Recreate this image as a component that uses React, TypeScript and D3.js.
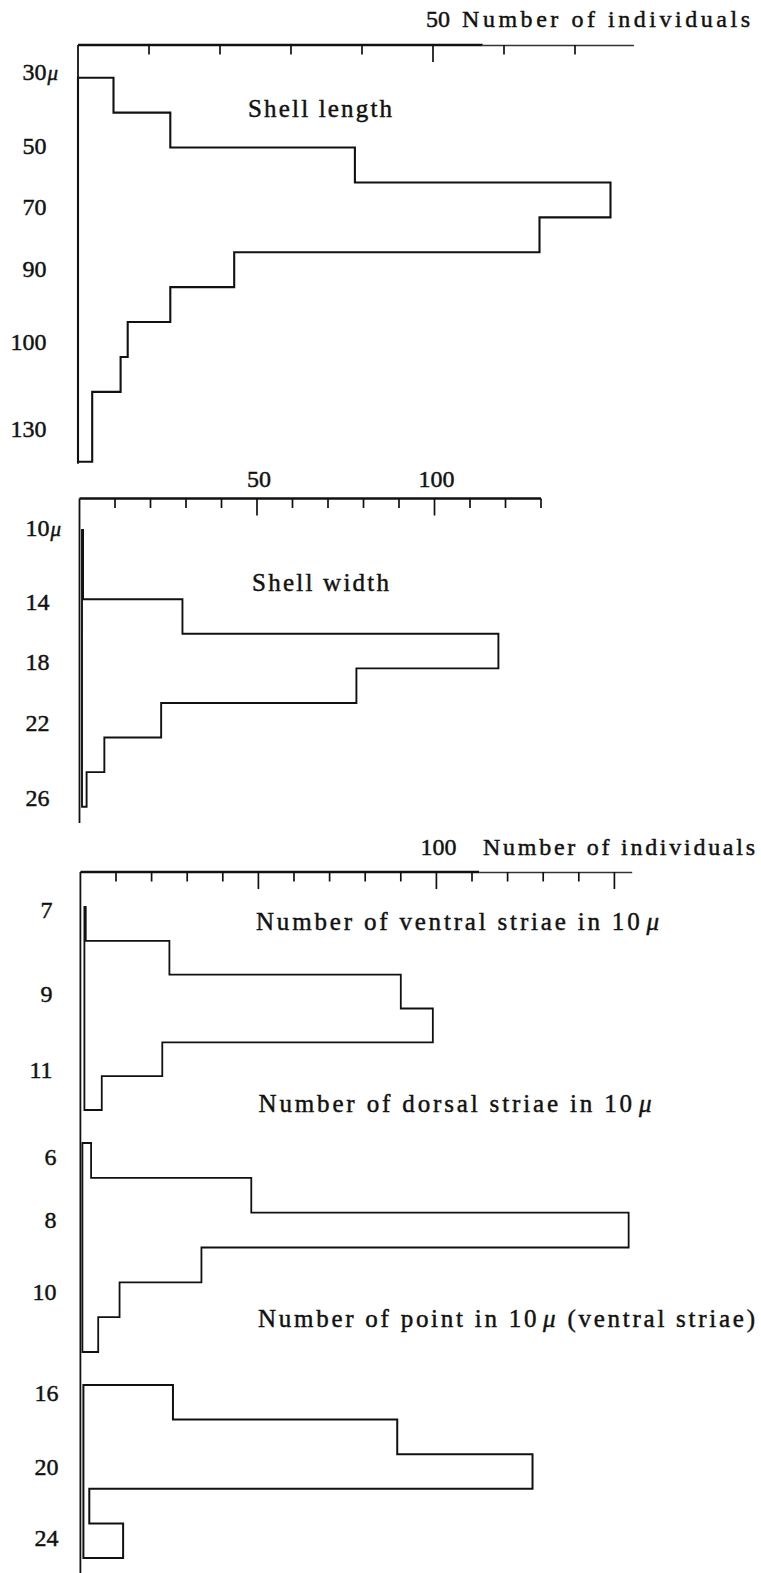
import * as d3 from "d3";

// counts per class (top class first)
const shellLengthCounts = [5, 13, 39, 75, 65, 22, 13, 7, 6, 2, 2];
const shellWidthCounts = [1, 1, 29, 118, 78, 23, 7, 2];
const ventralStriaeCounts = [1.5, 25, 90, 99, 23, 6];
const dorsalStriaeCounts = [3, 48, 154, 34, 11, 5];
const pointCounts = [26, 89, 127, 2.5, 12];

// class labels printed at the left, with their position in class units
const shellLengthLabels = ["30", "50", "70", "90", "100", "130"];
const shellLengthLabelAt = [-0.16, 1.96, 3.7, 5.46, 7.56, 10.05];
const shellWidthLabels = ["10", "14", "18", "22", "26"];
const shellWidthLabelAt = [-0.06, 2.08, 3.8, 5.58, 7.75];
const ventralLabels = ["7", "9", "11"];
const ventralLabelAt = [0.09, 2.57, 4.8];
const dorsalLabels = ["6", "8", "10"];
const dorsalLabelAt = [0.4, 2.2, 4.28];
const pointLabels = ["16", "20", "24"];
const pointLabelAt = [0.22, 2.36, 4.41];

// count axis ticks
const lengthAxisTicks = [10, 20, 30, 40, 50, 60, 70];
const widthAxisTicks = [10, 20, 30, 40, 50, 60, 70, 80, 90, 100, 110, 120, 130];
const striaeAxisTicks = [10, 20, 30, 40, 50, 60, 70, 80, 90, 100, 110, 120, 130, 140, 150];
const longTicks = [50, 100, 150];

const FONT = '"Liberation Serif", "DejaVu Serif", serif';
const INK = "#111";

const W = 761;
const H = 1573;

// scales
const xLength = d3.scaleLinear().domain([0, 10]).range([78, 149]);
const xWidth = d3.scaleLinear().domain([0, 10]).range([79.5, 115]);
const xStriae = d3.scaleLinear().domain([0, 10]).range([80.4, 116]);

const yLength = d3.scaleLinear().domain([0, shellLengthCounts.length]).range([77.7, 461.7]);
const yWidth = d3.scaleLinear().domain([0, shellWidthCounts.length]).range([530, 806.7]);
const yVentral = d3.scaleLinear().domain([0, ventralStriaeCounts.length]).range([907, 1110]);
const yDorsal = d3.scaleLinear().domain([0, dorsalStriaeCounts.length]).range([1143, 1352]);
const yPoint = d3.scaleLinear().domain([0, pointCounts.length]).range([1385, 1558]);

type Scale = d3.ScaleLinear<number, number>;

// text in the print is heavier than the plain font; a hairline stroke thickens it
const textInk = { fill: INK, stroke: INK, strokeWidth: 0.45 };

function Histogram({ counts, x, y, inset = 0, sw = 2 }: { counts: number[]; x: Scale; y: Scale; inset?: number; sw?: number }) {
  const left = x(0) + inset;
  const pts: [number, number][] = [[left, y(0)]];
  counts.forEach((c, i) => {
    pts.push([Math.max(x(c), left + 1), y(i)], [Math.max(x(c), left + 1), y(i + 1)]);
  });
  pts.push([left, y(counts.length)]);
  const d = (d3.line()(pts) || "") + "Z";
  return <path d={d} fill="none" stroke={INK} strokeWidth={sw} strokeLinejoin="miter" />;
}

function TopAxis({ x, y, ticks, end, solidTo }: { x: Scale; y: number; ticks: number[]; end: number; solidTo?: number }) {
  const split = solidTo ?? end;
  return (
    <g>
      <line x1={x(0)} x2={x(split)} y1={y} y2={y} stroke={INK} strokeWidth={2.4} />
      {split < end && (
        <line x1={x(split)} x2={x(end)} y1={y + 0.5} y2={y + 0.5} stroke="#333" strokeWidth={1.6} />
      )}
      {ticks.map((t) => (
        <line
          key={t}
          x1={x(t)}
          x2={x(t)}
          y1={y}
          y2={y + (longTicks.includes(t) ? 17 : 9.5)}
          stroke={INK}
          strokeWidth={1.7}
        />
      ))}
    </g>
  );
}

function ClassLabels({ labels, at, y, right, unit }: { labels: string[]; at: number[]; y: Scale; right: number; unit?: boolean }) {
  return (
    <g fontFamily={FONT} fontSize={24} {...textInk}>
      {labels.map((l, i) => (
        <g key={l}>
          <text x={right} y={y(at[i]) + 8.3} textAnchor="end">
            {l}
          </text>
          {unit && i === 0 && (
            <text x={right + 1} y={y(at[i]) + 8.3} fontSize={21} fontStyle="italic">
              μ
            </text>
          )}
        </g>
      ))}
    </g>
  );
}

function Title({ x, y, len, size = 25, children }: { x: number; y: number; len: number; size?: number; children: any }) {
  return (
    <text x={x} y={y} fontFamily={FONT} fontSize={size} {...textInk} textLength={len} lengthAdjust="spacing">
      {children}
    </text>
  );
}

export default function App() {
  return (
    <svg
      width={W}
      height={H}
      viewBox={`0 0 ${W} ${H}`}
      style={{ position: "absolute", left: 0, top: 0, background: "#fff" }}
    >
      <rect width={W} height={H} fill="#fff" />

      {/* ---------- Shell length ---------- */}
      <text x={xLength(50) + 5} y={27} textAnchor="middle" fontFamily={FONT} fontSize={24} {...textInk}>
        50
      </text>
      <Title x={462} y={27} len={288} size={24}>
        Number of individuals
      </Title>
      <TopAxis x={xLength} y={45} ticks={lengthAxisTicks} end={78.3} solidTo={57} />
      <line x1={xLength(0)} x2={xLength(0)} y1={45} y2={yLength(2.5)} stroke={INK} strokeWidth={1.8} />
      <line x1={xLength(0)} x2={xLength(0)} y1={yLength(2.79)} y2={yLength(11) + 2} stroke={INK} strokeWidth={1.8} />
      <Histogram counts={shellLengthCounts} x={xLength} y={yLength} sw={2.1} />
      <ClassLabels labels={shellLengthLabels} at={shellLengthLabelAt} y={yLength} right={46.5} unit />
      <Title x={248} y={117} len={144}>
        Shell length
      </Title>

      {/* ---------- Shell width ---------- */}
      {[50, 100].map((v) => (
        <text key={v} x={xWidth(v) + 2} y={487} textAnchor="middle" fontFamily={FONT} fontSize={24} {...textInk}>
          {v}
        </text>
      ))}
      <TopAxis x={xWidth} y={498.5} ticks={widthAxisTicks} end={130} />
      <line x1={xWidth(0)} x2={xWidth(0)} y1={498.5} y2={823} stroke={INK} strokeWidth={1.8} />
      <Histogram counts={shellWidthCounts} x={xWidth} y={yWidth} inset={2.5} sw={1.9} />
      <ClassLabels labels={shellWidthLabels} at={shellWidthLabelAt} y={yWidth} right={49.5} unit />
      <Title x={252} y={591} len={137}>
        Shell width
      </Title>

      {/* ---------- Striae and points ---------- */}
      <text x={xStriae(100) + 2} y={855} textAnchor="middle" fontFamily={FONT} fontSize={24} {...textInk}>
        100
      </text>
      <Title x={483} y={855} len={272} size={24}>
        Number of individuals
      </Title>
      <TopAxis x={xStriae} y={872} ticks={striaeAxisTicks} end={155} solidTo={112} />
      <line x1={xStriae(0)} x2={xStriae(0)} y1={872} y2={H} stroke={INK} strokeWidth={1.8} />

      <Histogram counts={ventralStriaeCounts} x={xStriae} y={yVentral} inset={4} sw={1.8} />
      <ClassLabels labels={ventralLabels} at={ventralLabelAt} y={yVentral} right={52.5} />
      <Title x={256} y={930} len={403}>
        Number of ventral striae in 10<tspan dx={4} fontStyle="italic">μ</tspan>
      </Title>

      <Histogram counts={dorsalStriaeCounts} x={xStriae} y={yDorsal} inset={2} sw={1.8} />
      <ClassLabels labels={dorsalLabels} at={dorsalLabelAt} y={yDorsal} right={56.5} />
      <Title x={258.5} y={1112} len={393}>
        Number of dorsal striae in 10<tspan dx={4} fontStyle="italic">μ</tspan>
      </Title>

      <Histogram counts={pointCounts} x={xStriae} y={yPoint} inset={3} sw={2} />
      <ClassLabels labels={pointLabels} at={pointLabelAt} y={yPoint} right={58.5} />
      <Title x={258} y={1327} len={497}>
        Number of point in 10<tspan dx={4} fontStyle="italic">μ</tspan> (ventral striae)
      </Title>
    </svg>
  );
}
